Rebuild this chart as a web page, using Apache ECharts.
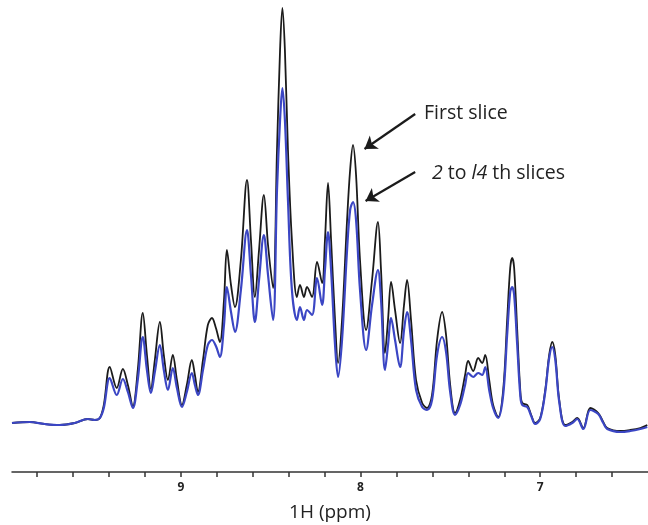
<!DOCTYPE html>
<html>
<head>
<meta charset="utf-8">
<script src="https://cdn.jsdelivr.net/npm/echarts@6/dist/echarts.min.js"></script>
<style>
  html, body { margin: 0; padding: 0; background: #fff; }
  #chart { width: 648px; height: 525px; }
</style>
</head>
<body>
<div id="chart"></div>
<script>
// Chemical shift axis (ppm), shared by both traces
const ppm = [
  9.940, 9.841, 9.758, 9.674, 9.591, 9.518, 9.479, 9.451, 9.429, 9.396,
  9.357, 9.323, 9.295, 9.267, 9.240, 9.212, 9.189, 9.167, 9.145, 9.117,
  9.095, 9.072, 9.045, 9.022, 8.994, 8.967, 8.939, 8.922, 8.905, 8.877,
  8.850, 8.827, 8.805, 8.783, 8.760, 8.744, 8.721, 8.699, 8.666, 8.632,
  8.610, 8.588, 8.565, 8.538, 8.515, 8.487, 8.465, 8.448, 8.435, 8.421,
  8.404, 8.382, 8.354, 8.337, 8.315, 8.298, 8.270, 8.242, 8.214, 8.198,
  8.181, 8.164, 8.142, 8.125, 8.103, 8.075, 8.058, 8.042, 8.025, 8.003,
  7.969, 7.936, 7.903, 7.886, 7.864, 7.847, 7.830, 7.808, 7.780, 7.758,
  7.741, 7.719, 7.691, 7.657, 7.630, 7.602, 7.574, 7.546, 7.524, 7.501,
  7.474, 7.446, 7.418, 7.401, 7.373, 7.345, 7.323, 7.306, 7.284, 7.262,
  7.234, 7.206, 7.184, 7.167, 7.156, 7.145, 7.128, 7.111, 7.100, 7.072,
  7.050, 7.028, 7.000, 6.972, 6.950, 6.933, 6.916, 6.894, 6.861, 6.822,
  6.794, 6.760, 6.721, 6.677, 6.649, 6.627, 6.554, 6.499, 6.443, 6.404
];

// Intensity of the first slice (a.u.)
const firstSlice = [
  49, 50, 48, 47, 49, 53, 52, 54, 67, 105,
  84, 103, 87, 66, 102, 159, 117, 83, 112, 150,
  117, 92, 117, 92, 67, 87, 112, 97, 80, 112,
  147, 154, 144, 130, 172, 222, 187, 165, 212, 292,
  232, 175, 222, 277, 227, 184, 322, 422, 464, 422,
  322, 232, 175, 187, 175, 185, 175, 210, 189, 232,
  289, 232, 152, 109, 152, 252, 302, 327, 297, 212,
  142, 192, 250, 202, 119, 152, 190, 162, 129, 167,
  192, 152, 92, 69, 64, 77, 132, 160, 137, 87,
  59, 72, 97, 111, 101, 114, 109, 117, 92, 67,
  55, 82, 152, 204, 214, 204, 142, 82, 69, 67,
  57, 49, 54, 82, 117, 130, 117, 72, 47, 50,
  54, 44, 64, 59, 50, 44, 41, 42, 44, 47
];

// Intensity of slices 2 to 14 (a.u.)
const laterSlices = [
  49, 50, 48, 47, 49, 53, 52, 54, 64, 94,
  77, 93, 80, 64, 92, 135, 102, 79, 100, 127,
  102, 82, 104, 84, 65, 80, 99, 87, 77, 102,
  127, 132, 126, 115, 147, 185, 160, 140, 182, 242,
  197, 150, 192, 237, 197, 152, 282, 352, 384, 352,
  272, 182, 152, 165, 152, 162, 157, 194, 167, 202,
  240, 202, 127, 95, 132, 222, 262, 270, 252, 182,
  122, 167, 202, 172, 102, 127, 154, 132, 105, 142,
  160, 132, 82, 65, 62, 72, 117, 135, 120, 80,
  57, 67, 87, 99, 95, 99, 97, 105, 82, 64,
  54, 77, 137, 180, 185, 177, 127, 77, 67, 65,
  56, 48, 53, 80, 114, 125, 112, 70, 46, 49,
  53, 43, 62, 58, 49, 43, 40, 41, 43, 45
];

const tickValues = [9.8, 9.6, 9.4, 9.2, 9.0, 8.8, 8.6, 8.4, 8.2, 8.0, 7.8, 7.6, 7.4, 7.2, 7.0, 6.8, 6.6];
const labelValues = [9, 8, 7];

const pair = (ys) => ppm.map((x, i) => [x, ys[i]]);

const chart = echarts.init(document.getElementById('chart'), null, { renderer: 'canvas' });

const textFont = '"Open Sans", "DejaVu Sans", sans-serif';

chart.setOption({
  animation: false,
  backgroundColor: '#ffffff',
  grid: { left: 12, right: 0, top: 0, bottom: 53, containLabel: false, outerBoundsMode: 'none' },
  xAxis: {
    type: 'value',
    inverse: true,
    min: 6.40,
    max: 9.94,
    name: '1H (ppm)',
    nameLocation: 'middle',
    nameGap: 31,
    nameTextStyle: { fontFamily: textFont, fontSize: 19, color: '#222' },
    axisLine: { show: true, onZero: false, lineStyle: { color: '#333', width: 1.5 } },
    axisTick: { show: true, customValues: tickValues, length: 5, lineStyle: { color: '#333', width: 1.5 } },
    axisLabel: {
      show: true,
      customValues: labelValues,
      margin: 10,
      fontFamily: textFont,
      fontSize: 12,
      fontWeight: 'bold',
      color: '#222',
      formatter: (v) => String(v)
    },
    splitLine: { show: false }
  },
  yAxis: { type: 'value', min: 0, max: 472, show: false },
  series: [
    {
      name: 'First slice',
      type: 'line',
      data: pair(firstSlice),
      smooth: 0.35,
      symbol: 'none',
      lineStyle: { color: '#1b1b1b', width: 1.8 },
      z: 2,
      markLine: {
        silent: true,
        symbol: ['none', 'arrow'],
        symbolSize: 12,
        label: { show: false },
        itemStyle: { color: '#1b1b1b' },
        lineStyle: { color: '#1b1b1b', width: 2.2, type: 'solid' },
        data: [
          [{ coord: [7.696, 358] }, { coord: [7.978, 323] }],
          [{ coord: [7.696, 300] }, { coord: [7.972, 271] }]
        ]
      }
    },
    {
      name: '2 to 14 th slices',
      type: 'line',
      data: pair(laterSlices),
      smooth: 0.35,
      symbol: 'none',
      lineStyle: { color: '#3b46c4', width: 2.2 },
      z: 3
    }
  ],
  graphic: [
    {
      type: 'text',
      x: 424,
      y: 113,
      style: { text: 'First slice', font: '19.5px ' + textFont, fill: '#222', verticalAlign: 'middle' }
    },
    {
      type: 'text',
      x: 432,
      y: 173,
      style: {
        text: '{i|2} to {i|l4} th slices',
        font: '19.5px ' + textFont,
        fill: '#222',
        verticalAlign: 'middle',
        rich: { i: { fontStyle: 'italic', fontSize: 19.5, fontFamily: textFont, fill: '#222' } }
      }
    }
  ]
});
</script>
</body>
</html>
